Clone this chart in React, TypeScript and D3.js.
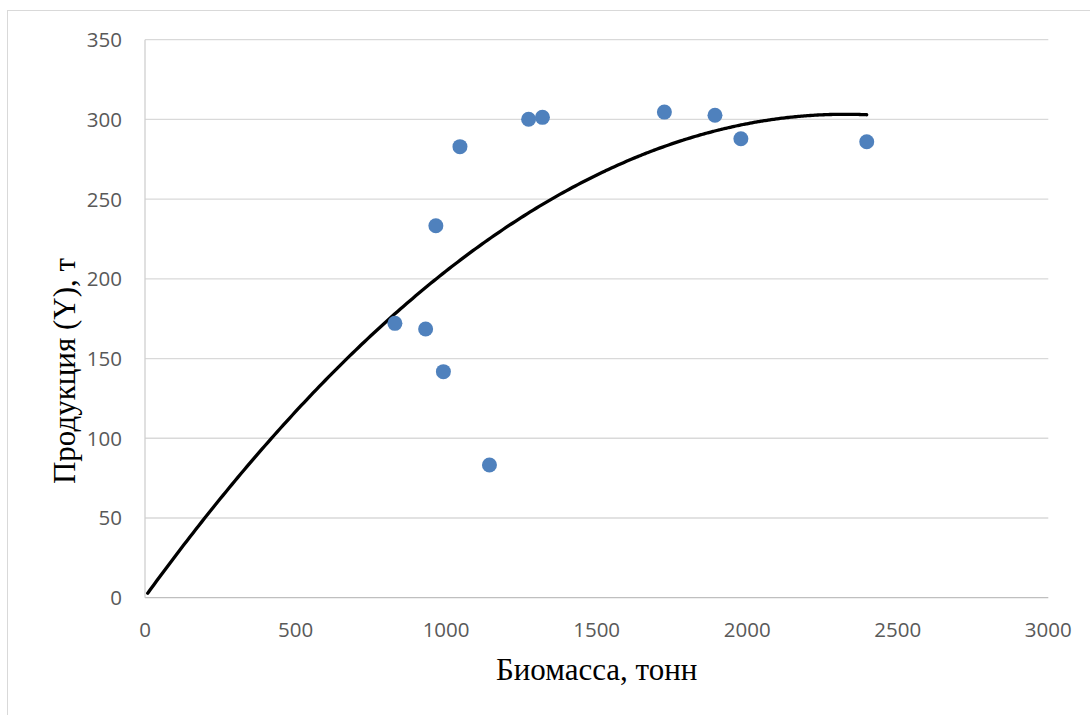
import React from "react";
import * as d3 from "d3";

const biomass = [830, 932, 966, 991, 1046, 1144, 1274, 1320, 1725, 1893, 1979, 2397];
const production = [172.1, 168.5, 233.3, 141.8, 282.9, 83.2, 300.1, 301.3, 304.6, 302.6, 287.9, 286.0];
const xTicks = [0, 500, 1000, 1500, 2000, 2500, 3000];
const yTicks = [0, 50, 100, 150, 200, 250, 300, 350];
// polynomial (order 2) trendline coefficients
const trendA = -5.6e-5;
const trendB = 0.2604;
const trendC = 0.5;
const trendFrom = 9;
const trendTo = 2397;
const xTitle = "Биомасса, тонн";
const yTitle = "Продукция (Y), т";

export default function App() {
  const W = 1090, H = 715;
  const left = 145, right = 1048.3, top = 39.7, bottom = 597.7;
  const x = d3.scaleLinear().domain([0, 3000]).range([left, right]);
  const y = d3.scaleLinear().domain([0, 350]).range([bottom, top]);
  const trendXs = d3.range(trendFrom, trendTo, 10).concat([trendTo]);
  const line = d3
    .line<number>()
    .x((d) => x(d))
    .y((d) => y(trendA * d * d + trendB * d + trendC))
    .curve(d3.curveMonotoneX);
  const tickFont = "'Open Sans', sans-serif";
  return (
    <svg
      width={W}
      height={H}
      style={{ position: "absolute", left: 0, top: 0, background: "#fff" }}
    >
      <rect x={7.5} y={10.5} width={1200} height={800} fill="#fff" stroke="#d9d9d9" strokeWidth={1} />
      {yTicks.map((t) => (
        <line
          key={"g" + t}
          x1={left}
          x2={right}
          y1={y(t)}
          y2={y(t)}
          stroke={t === 0 ? "#bfbfbf" : "#d9d9d9"}
          strokeWidth={1.3}
        />
      ))}
      <line x1={left} x2={left} y1={top} y2={bottom} stroke="#d0d0d0" strokeWidth={1.3} />
      {yTicks.map((t) => (
        <text
          key={"yt" + t}
          x={122}
          y={y(t)}
          dy="0.36em"
          textAnchor="end"
          fontFamily={tickFont}
          fontSize={20.5}
          fill="#595959"
        >
          {t}
        </text>
      ))}
      {xTicks.map((t) => (
        <text
          key={"xt" + t}
          x={x(t)}
          y={637}
          textAnchor="middle"
          fontFamily={tickFont}
          fontSize={20.5}
          fill="#595959"
        >
          {t}
        </text>
      ))}
      <path d={line(trendXs) || ""} fill="none" stroke="#000" strokeWidth={3.3} strokeLinecap="round" />
      {biomass.map((b, i) => (
        <circle key={"p" + i} cx={x(b)} cy={y(production[i])} r={7.5} fill="#4f81bd" />
      ))}
      <text
        x={(left + right) / 2}
        y={680}
        textAnchor="middle"
        fontFamily="'Liberation Serif', 'Times New Roman', serif"
        fontSize={31}
        fill="#000"
      >
        {xTitle}
      </text>
      <text
        transform={`translate(75,371) rotate(-90)`}
        textAnchor="middle"
        fontFamily="'Liberation Serif', 'Times New Roman', serif"
        fontSize={31}
        fill="#000"
      >
        {yTitle}
      </text>
    </svg>
  );
}
